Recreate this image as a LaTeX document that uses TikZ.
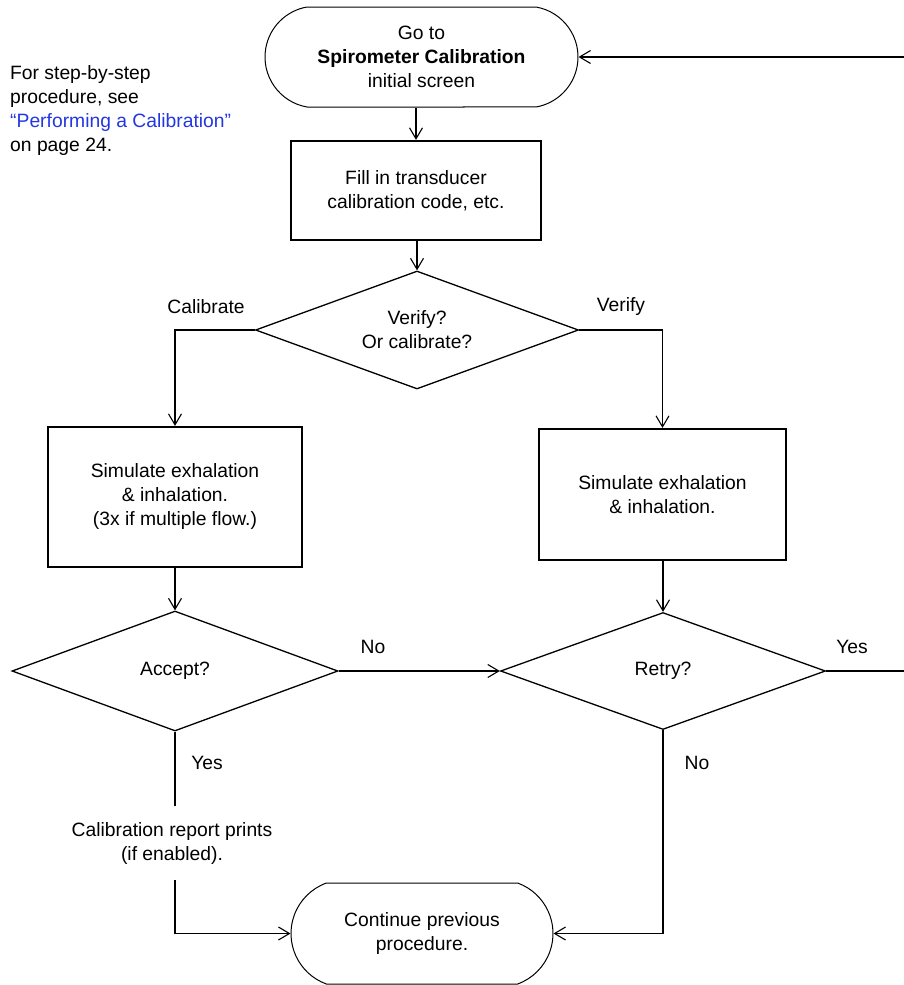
\documentclass[tikz,border=0pt]{standalone}
\usepackage{fontspec}
\setmainfont{Liberation Sans}
\usetikzlibrary{arrows.meta,shapes.geometric,shapes.misc}
\definecolor{linkblue}{RGB}{35,55,225}
\tikzset{
  txt/.style={font=\fontsize{19.3}{24}\selectfont, align=center, inner sep=0pt},
  term/.style={txt, draw, line width=1pt, rounded rectangle},
  procbox/.style={txt, draw, line width=2.2pt, rectangle},
  decide/.style={txt, draw, line width=1.3pt, diamond, aspect=2.7},
  conn/.style={line width=1.8pt},
  arr/.style={conn, -{Straight Barb[length=11pt,width=13pt,line width=1.1pt]}},
  lbl/.style={txt}
}
\begin{document}
\begin{tikzpicture}[x=1pt,y=-1pt]
\useasboundingbox (0,0) rectangle (903,985);
% nodes
\node[term, rounded rectangle arc length=160, minimum width=313pt, minimum height=100pt] (top) at (421.5,57)
  {Go to\\\textbf{Spirometer Calibration}\\initial screen};
\node[procbox, minimum width=250pt, minimum height=99pt] (fill) at (416,190.5)
  {Fill in transducer\\calibration code, etc.};
\node[decide, minimum width=323pt, minimum height=118pt] (verify) at (417,330)
  {Verify?\\Or calibrate?};
\node[procbox, minimum width=254pt, minimum height=140pt] (lbox) at (175,497)
  {Simulate exhalation\\\& inhalation.\\(3x if multiple flow.)};
\node[procbox, minimum width=247pt, minimum height=131pt] (rbox) at (662.5,494.5)
  {Simulate exhalation\\\& inhalation.};
\node[decide, minimum width=326pt, minimum height=120pt] (accept) at (175,671)
  {Accept?};
\node[decide, minimum width=325pt, minimum height=117pt] (retry) at (663,671)
  {Retry?};
\node[txt, minimum height=74pt] (rep) at (172,843)
  {Calibration report prints\\(if enabled).};
\node[term, rounded rectangle arc length=140, minimum width=262pt, minimum height=101pt] (bot) at (422,933.5)
  {Continue previous\\procedure.};
\node[txt, align=left, anchor=north west] (note) at (10,65)
  {For step-by-step\\procedure, see\\\textcolor{linkblue}{“Performing a Calibration”}\\on page 24.};
\coordinate (rc) at (912,671);
% labels
\node[lbl] (lcal) at (206,307) {Calibrate};
\node[lbl] (lver) at (621,307) {Verify};
\node[lbl] (lno1) at (373,647) {No};
\node[lbl] (lyes1) at (852,647) {Yes};
\node[lbl] (lyes2) at (207,763) {Yes};
\node[lbl] (lno2) at (697,763) {No};
% connectors
\draw[arr] (fill.north |- top.south) -- (fill.north);
\draw[arr] (verify.north |- fill.south) -- (verify.north);
\draw[arr] (verify.west) -| (lbox.north);
\draw[arr] (verify.east) -| (rbox.north);
\draw[arr] (lbox.south) -- (accept.north);
\draw[arr] (retry.north |- rbox.south) -- (retry.north);
\draw[arr] (accept.east) -- (retry.west);
\draw[arr] (retry.east) -- (rc) |- (top.east);
\draw[conn] (accept.south) -- (accept.south |- rep.north);
\draw[arr] (accept.south |- rep.south) |- (bot.west);
\draw[arr] (retry.south) |- (bot.east);
\end{tikzpicture}
\end{document}
